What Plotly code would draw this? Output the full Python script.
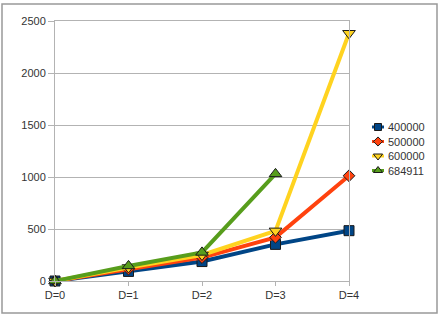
import plotly.graph_objects as go

categories = ["D=0", "D=1", "D=2", "D=3", "D=4"]
series_names = ["400000", "500000", "600000", "684911"]
s400000 = [0, 92, 187, 352, 484]
s500000 = [0, 115, 225, 420, 1012]
s600000 = [0, 130, 250, 482, 2382]
s684911 = [0, 145, 275, 1030]
y_ticks = [0, 500, 1000, 1500, 2000, 2500]

colors = ["#004586", "#ff420e", "#ffd320", "#579d1c"]
symbols = ["square", "diamond", "triangle-down", "triangle-up"]
sizes = [10, 9, 11, 11]
legend_sizes = [7, 7, 8, 8]
data = [s400000, s500000, s600000, s684911]

W, H = 447, 314
L, R, T, B = 55, 10, 21, 33
pw = W - L - R
ph = H - T - B

fig = go.Figure()
for name, vals, c, sym, sz in zip(series_names, data, colors, symbols, sizes):
    fig.add_trace(go.Scatter(
        x=categories[:len(vals)], y=vals, name=name, mode="lines+markers",
        line=dict(color=c, width=4),
        marker=dict(symbol=sym, size=sz, color=c, line=dict(color="#1a1a1a", width=1)),
        cliponaxis=False, showlegend=False,
    ))

# legend drawn on an auxiliary axis pair (x in pixels, y = legend row index)
for row, (name, c, sym, lsz) in enumerate(zip(series_names, colors, symbols, legend_sizes)):
    fig.add_trace(go.Scatter(x=[2, 14], y=[row, row], mode="lines",
                             line=dict(color=c, width=3), xaxis="x2", yaxis="y2",
                             showlegend=False, hoverinfo="skip", cliponaxis=False))
    fig.add_trace(go.Scatter(x=[8], y=[row], mode="markers",
                             marker=dict(symbol=sym, size=lsz, color=c,
                                         line=dict(color="#1a1a1a", width=1)),
                             xaxis="x2", yaxis="y2",
                             showlegend=False, hoverinfo="skip", cliponaxis=False))
    fig.add_annotation(x=16, y=row, xref="x2", yref="y2", text=name,
                       showarrow=False, xanchor="left", yanchor="middle",
                       font=dict(size=11, color="#333333"))

x_main_end = (349 - L) / pw
fig.update_layout(
    width=W, height=H,
    margin=dict(l=L, r=R, t=T, b=B, autoexpand=False),
    paper_bgcolor="white", plot_bgcolor="rgba(0,0,0,0)",
    font=dict(family="Liberation Sans, Arial, sans-serif", size=11, color="#333333"),
    showlegend=False,
    xaxis=dict(type="category", categoryorder="array", categoryarray=categories,
               domain=[0, x_main_end], automargin=False,
               range=[0, 4], showgrid=False, zeroline=False,
               showline=True, linecolor="#b3b3b3", mirror=True,
               ticks="outside", ticklen=4, tickcolor="#b3b3b3", fixedrange=True),
    yaxis=dict(range=[0, 2500], tickvals=y_ticks, showgrid=True, gridcolor="#b3b3b3",
               zeroline=False, showline=True, linecolor="#b3b3b3", mirror=True,
               automargin=False,
               ticks="outside", ticklen=6, tickcolor="#b3b3b3", fixedrange=True),
    xaxis2=dict(domain=[(370 - L) / pw, (436 - L) / pw], range=[0, 66], visible=False,
                anchor="y2", fixedrange=True),
    yaxis2=dict(domain=[0, 1], range=[10.62, -7.31], visible=False, anchor="x2",
                fixedrange=True),
)

fig.add_shape(type="rect", xref="paper", yref="paper",
              x0=(2 - L) / pw, x1=(437 - L) / pw,
              y0=(281 - 313) / ph, y1=(281 - 4) / ph,
              line=dict(color="#999999", width=1.5), layer="below")

fig.write_html("out.html")
